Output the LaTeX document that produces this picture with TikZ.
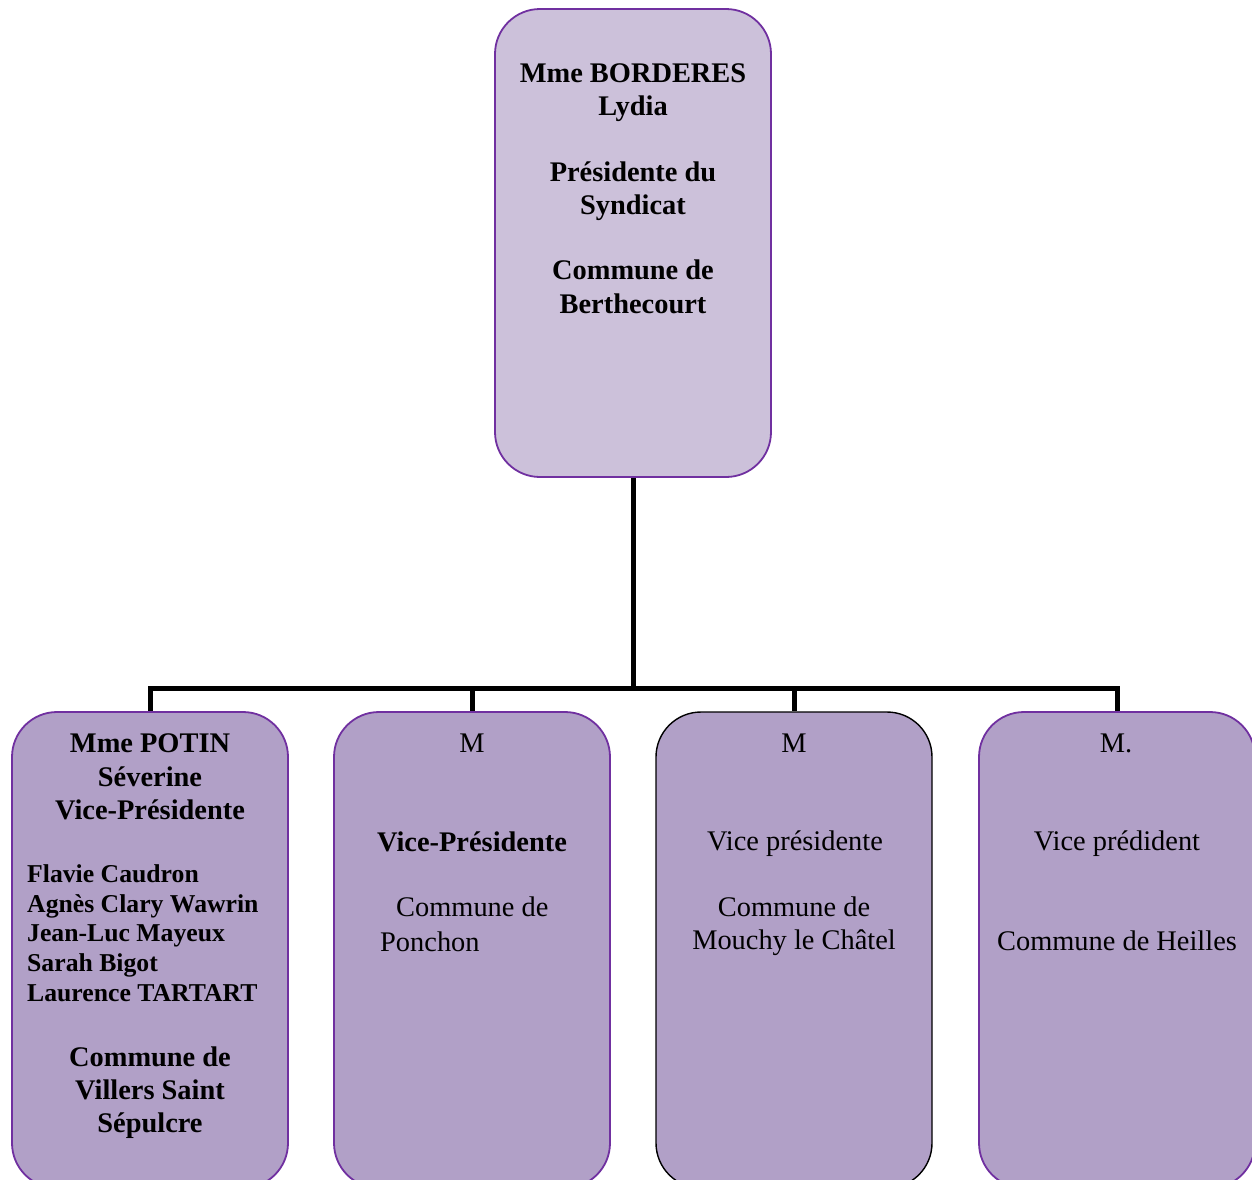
\documentclass[tikz,border=0pt]{standalone}
\usepackage{fontspec}
\setmainfont{Liberation Serif}
\definecolor{topfill}{HTML}{CCC1DA}
\definecolor{subfill}{HTML}{B1A0C7}
\definecolor{edgepurple}{HTML}{7030A0}
\tikzset{
  orgbox/.style={draw=edgepurple, line width=1.8pt, rounded corners=45pt, minimum width=276pt, inner sep=0pt},
  topbox/.style={orgbox, fill=topfill, minimum height=468pt},
  subbox/.style={orgbox, fill=subfill, minimum height=476pt},
  link/.style={line width=5pt, black},
  big/.style={inner sep=0pt, anchor=base, font=\fontsize{28.4}{33}\selectfont},
  bigb/.style={big, font=\fontsize{28.4}{33}\selectfont\bfseries},
  memb/.style={inner sep=0pt, anchor=base west, font=\fontsize{25.7}{30}\selectfont\bfseries},
}
\begin{document}
\begin{tikzpicture}[x=1pt, y=-1pt]
\useasboundingbox (0,0) rectangle (1252,1179);
\clip (0,0) rectangle (1252,1179);
% boxes
\node[topbox] (top) at (633,243) {};
\node[subbox] (b1) at (150,950) {};
\node[subbox] (b2) at (472,950) {};
\node[subbox, draw=black, line width=1.4pt] (b3) at (794,950) {};
\node[subbox] (b4) at (1117,950) {};
% connectors
\coordinate (bus) at (633,688);
\draw[link] (top.south) -- (bus);
\draw[link] (bus) -| (b1.north);
\draw[link] (bus) -| (b2.north);
\draw[link] (bus) -| (b3.north);
\draw[link] (bus) -| (b4.north);
% top text
\node[bigb] (t1) at (633,82) {Mme BORDERES};
\node[bigb] (t2) at (633,115) {Lydia};
\node[bigb] (t3) at (633,181) {Présidente du};
\node[bigb] (t4) at (633,214) {Syndicat};
\node[bigb] (t5) at (633,279) {Commune de};
\node[bigb] (t6) at (633,313) {Berthecourt};
% box 1 text
\node[bigb] (a1) at (150,752) {Mme POTIN};
\node[bigb] (a2) at (150,786) {Séverine};
\node[bigb] (a3) at (150,819) {Vice-Présidente};
\node[memb] (m1) at (27,882) {Flavie Caudron};
\node[memb] (m2) at (27,912) {Agnès Clary Wawrin};
\node[memb] (m3) at (27,941) {Jean-Luc Mayeux};
\node[memb] (m4) at (27,971) {Sarah Bigot};
\node[memb] (m5) at (27,1001) {Laurence TARTART};
\node[bigb] (a4) at (150,1066) {Commune de};
\node[bigb] (a5) at (150,1099) {Villers Saint};
\node[bigb] (a6) at (150,1132) {Sépulcre};
% box 2 text
\node[big] (c1) at (472,752) {M};
\node[bigb] (c2) at (472,851) {Vice-Présidente};
\node[big, anchor=base west] (c3) at (396,916) {Commune de};
\node[big, anchor=base west] (c4) at (380,951) {Ponchon};
% box 3 text
\node[big] (d1) at (794,752) {M};
\node[big] (d2) at (795,850) {Vice présidente};
\node[big] (d3) at (794,916) {Commune de};
\node[big] (d4) at (794,949) {Mouchy le Châtel};
% box 4 text
\node[big] (e1) at (1116,752) {M.};
\node[big] (e2) at (1117,850) {Vice prédident};
\node[big] (e3) at (1117,950) {Commune de Heilles};
\end{tikzpicture}
\end{document}
